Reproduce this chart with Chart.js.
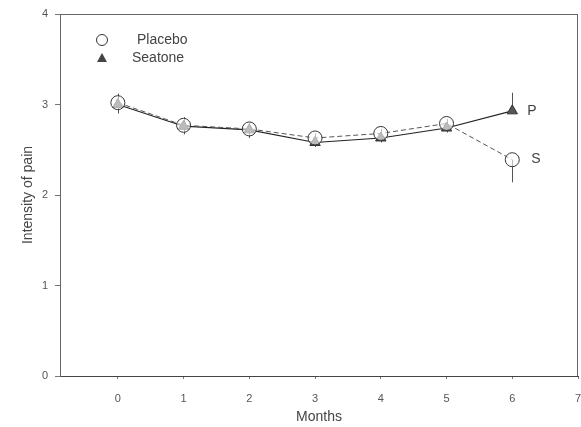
<!DOCTYPE html>
<html><head><meta charset="utf-8">
<script src="https://cdn.jsdelivr.net/npm/chart.js@4"></script>
<style>html,body{margin:0;padding:0;background:#fff;overflow:hidden}#wrap{width:581px;height:427px;overflow:hidden}</style>
</head><body><div id="wrap"><canvas id="c" width="586" height="427"></canvas></div>
<script>
const months = [0, 1, 2, 3, 4, 5, 6];
const xTicks = [0, 1, 2, 3, 4, 5, 6, 7];
const yTicks = [0, 1, 2, 3, 4];
const placebo = [3.02, 2.77, 2.73, 2.63, 2.68, 2.79, 2.39];
const placeboErr = [0.12, 0.1, 0.1, 0.1, 0.1, 0.1, 0.25];
const seatone = [3.0, 2.76, 2.72, 2.58, 2.63, 2.74, 2.93];
const seatoneErr = [0.12, 0.1, 0.08, 0.1, 0.1, 0.1, 0.2];
const endLabels = ['S', 'P'];

const ink = '#333';
const fam = 'Liberation Sans, Arial, sans-serif';
const tickFont = {family: fam, size: 11};
const titleFont = {family: fam, size: 14};

const errPlugin = {
  id: 'err',
  beforeDatasetsDraw(chart) {
    const ctx = chart.ctx, xs = chart.scales.x, ys = chart.scales.y;
    ctx.save();
    ctx.strokeStyle = '#555'; ctx.lineWidth = 1;
    const sets = [[placebo, placeboErr, -1], [seatone, seatoneErr, 1]];
    sets.forEach(([v, e, dir]) => {
      months.forEach((m, i) => {
        const px = Math.round(xs.getPixelForValue(m)) + 0.5;
        ctx.beginPath();
        ctx.moveTo(px, ys.getPixelForValue(v[i]));
        ctx.lineTo(px, ys.getPixelForValue(v[i] + dir * e[i]));
        ctx.stroke();
      });
    });
    ctx.restore();
  },
  afterDraw(chart) {
    const ctx = chart.ctx, xs = chart.scales.x, ys = chart.scales.y, a = chart.chartArea;
    ctx.save();
    ctx.strokeStyle = '#666'; ctx.lineWidth = 1;
    ctx.beginPath();
    ctx.moveTo(a.left, a.top + 0.5); ctx.lineTo(a.right, a.top + 0.5);
    ctx.moveTo(a.right - 0.5, a.top); ctx.lineTo(a.right - 0.5, a.bottom);
    ctx.stroke();
    ctx.fillStyle = '#444';
    ctx.font = '14px ' + fam;
    ctx.textBaseline = 'middle';
    const last = months.length - 1;
    ctx.fillText(endLabels[0], xs.getPixelForValue(months[last]) + 19, ys.getPixelForValue(placebo[last]) - 1);
    ctx.fillText(endLabels[1], xs.getPixelForValue(months[last]) + 15, ys.getPixelForValue(seatone[last]));
    const lx = a.left + 42, ly1 = a.top + 26, ly2 = a.top + 44;
    ctx.strokeStyle = ink; ctx.lineWidth = 1;
    ctx.beginPath(); ctx.arc(lx, ly1, 5.5, 0, Math.PI * 2); ctx.fillStyle = '#fff'; ctx.fill(); ctx.stroke();
    ctx.fillStyle = '#444';
    ctx.beginPath(); ctx.moveTo(lx, ly2 - 5); ctx.lineTo(lx + 5, ly2 + 4); ctx.lineTo(lx - 5, ly2 + 4); ctx.closePath(); ctx.fill();
    ctx.fillText(chart.data.datasets[0].label, lx + 35, ly1);
    ctx.fillText(chart.data.datasets[1].label, lx + 30, ly2);
    ctx.restore();
  }
};

new Chart(document.getElementById('c'), {
  type: 'line',
  data: {
    datasets: [
      {label: 'Placebo', data: months.map((m, i) => ({x: m, y: placebo[i]})),
       borderColor: '#555', borderWidth: 1, borderDash: [5, 3], pointStyle: 'circle',
       pointRadius: 7, pointBackgroundColor: 'rgba(255,255,255,0.6)', pointBorderColor: ink, pointBorderWidth: 1, order: 1},
      {label: 'Seatone', data: months.map((m, i) => ({x: m, y: seatone[i]})),
       borderColor: '#222', borderWidth: 1.2, pointStyle: 'triangle',
       pointRadius: 6, pointBackgroundColor: '#555', pointBorderColor: '#333', pointBorderWidth: 1, order: 2}
    ]
  },
  options: {
    responsive: false, animation: false,
    layout: {padding: {top: 14, right: 3, left: 18, bottom: 0}},
    plugins: {legend: {display: false}, tooltip: {enabled: false}},
    scales: {
      x: {
        type: 'linear', min: -0.88, max: 7,
        afterBuildTicks: s => { s.ticks = xTicks.map(v => ({value: v})); },
        afterFit: s => { s.height = 51; s.paddingRight = 0; s.paddingLeft = 0; },
        grid: {drawOnChartArea: false, drawTicks: true, tickLength: 3, color: '#777'},
        border: {display: true, color: '#444', width: 1},
        ticks: {color: '#555', font: tickFont, padding: 13},
        title: {display: true, text: 'Months', color: '#444', font: titleFont, padding: {top: 0, bottom: 1}}
      },
      y: {
        type: 'linear', min: 0, max: 4,
        afterBuildTicks: s => { s.ticks = yTicks.map(v => ({value: v})); },
        afterFit: s => { s.width = 42; },
        grid: {drawOnChartArea: false, drawTicks: true, tickLength: 5, color: '#777'},
        border: {display: true, color: '#666', width: 1},
        ticks: {color: '#555', font: tickFont, padding: 7},
        title: {display: true, text: 'Intensity of pain', color: '#444', font: titleFont, padding: {top: 2, bottom: 2}}
      }
    }
  },
  plugins: [errPlugin]
});
</script></body></html>
